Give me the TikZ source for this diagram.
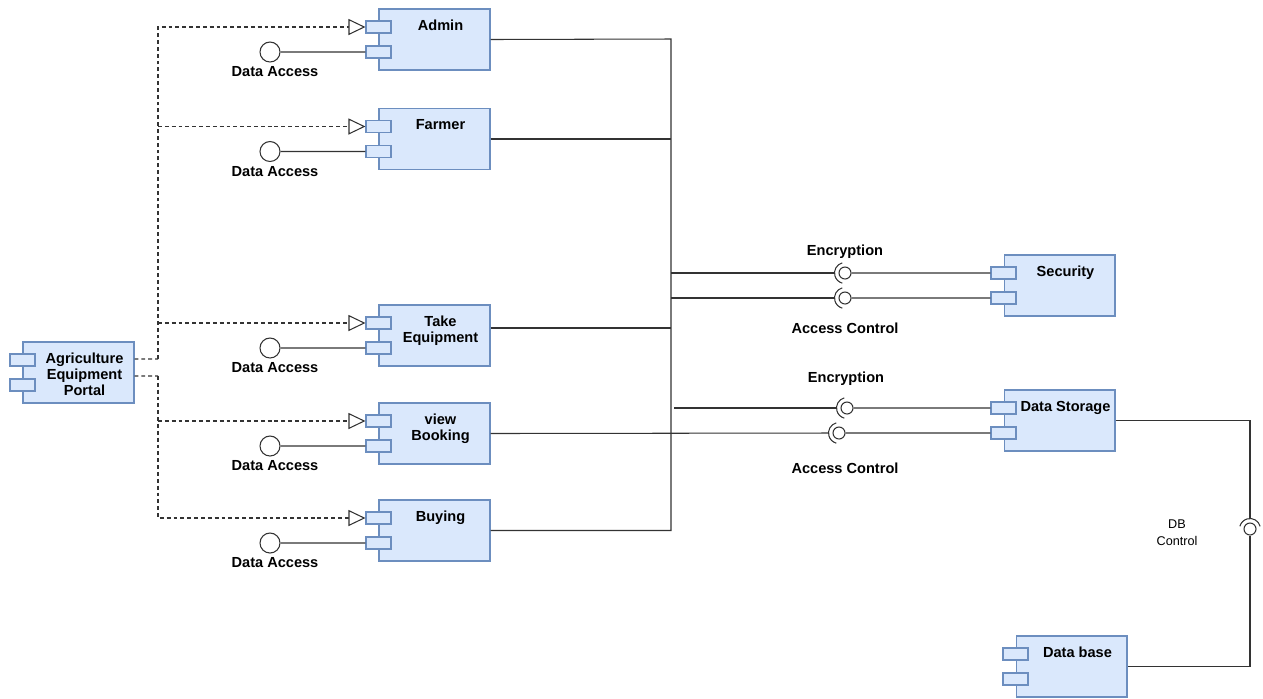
\documentclass[tikz,border=0pt]{standalone}
\usepackage{fontspec}
\setmainfont{Liberation Sans}
\usetikzlibrary{arrows.meta}
\definecolor{compfill}{HTML}{DAE8FC}
\definecolor{compline}{HTML}{6C8EBF}
\definecolor{wirecol}{HTML}{333333}
\tikzset{
	comp/.style={draw=compline,fill=compfill,line width=.6pt,minimum width=2.22cm,minimum height=1.22cm,inner sep=0pt},
	port/.style={draw=compline,fill=compfill,line width=.6pt,minimum width=.5cm,minimum height=.24cm,inner sep=0pt},
	complabel/.style={anchor=north,inner sep=0pt,align=center,font=\fontsize{8.3}{9.1}\selectfont\bfseries},
	txt/.style={inner sep=0pt,align=center,font=\fontsize{8.3}{9.1}\selectfont\bfseries},
	wire/.style={draw=wirecol,line width=.6pt},
	dep/.style={draw=wirecol,line width=.6pt,dash pattern=on 2.2pt off 1.7pt,-{Triangle[open,length=.34cm,width=.32cm,fill=white]}},
	depline/.style={draw=wirecol,line width=.6pt,dash pattern=on 2.2pt off 1.7pt},
	ball/.style={circle,draw=wirecol,fill=white,line width=.6pt,minimum size=.4cm,inner sep=0pt},
	smallball/.style={circle,draw=wirecol,fill=white,line width=.6pt,minimum size=.24cm,inner sep=0pt}
}
% component box with two ports and its name
\newcommand{\Comp}[4]{
	\node[comp] (#1) at (#2,#3) {};
	\node[port] (#1-p1) at ([yshift=.25cm]#1.west) {};
	\node[port] (#1-p2) at ([yshift=-.25cm]#1.west) {};
	\node[complabel] (#1-t) at ([xshift=.12cm,yshift=-.23cm]#1.north) {#4};
}
% provided interface: ball with label below
\newcommand{\Provided}[2]{
	\node[ball] (#1-da) at (270,#2) {};
	\node[txt] (#1-dal) at (275,#2+20) {Data Access};
	\draw[wire] (#1-da.east) -- (#1-p2.west);
}
% required interface: small ball with socket arc facing #3
\newcommand{\Socket}[3]{
	\node[smallball] (#1) at (#2) {};
	\draw[wire] (#1.center) ++({#3-75}:.21cm) arc[start angle={#3-75},end angle={#3+75},radius=.21cm];
}

\begin{document}
\begin{tikzpicture}[x=0.02cm,y=-0.02cm]
\useasboundingbox (0,0) rectangle (1263,698);

%components
\Comp{portal}{78.5}{372.5}{Agriculture\\Equipment\\Portal}
\Comp{admin}{434.5}{39.5}{Admin}
\Comp{farmer}{434.5}{139}{Farmer}
\Comp{take}{434.5}{335.5}{Take\\Equipment}
\Comp{view}{434.5}{433.5}{view\\Booking}
\Comp{buying}{434.5}{530.5}{Buying}
\Comp{sec}{1059.5}{285.5}{Security}
\Comp{ds}{1059.5}{420.5}{Data Storage}
\Comp{db}{1071.5}{666.5}{Data base}

%dependencies from the portal
\coordinate (splitA) at (158,359);
\coordinate (splitB) at (158,376);
\draw[depline] ([yshift=.27cm]portal.east) -- (splitA);
\draw[dep] (splitA) |- (admin-p1.west);
\draw[dep] (farmer-p1.west -| splitA) -- (farmer-p1.west);
\draw[dep] (take-p1.west -| splitA) -- (take-p1.west);
\draw[depline] ([yshift=-.07cm]portal.east) -- (splitB);
\draw[dep] (splitB) |- (buying-p1.west);
\draw[dep] (view-p1.west -| splitB) -- (view-p1.west);

%data access
\Provided{admin}{52}
\Provided{farmer}{151.5}
\Provided{take}{348}
\Provided{view}{446}
\Provided{buying}{543}

%bus
\coordinate (bustop) at (671,39);
\coordinate (busbot) at (671,530.5);
\draw[wire] (admin.east) -- (bustop) -- (busbot) -- (buying.east);
\draw[wire] (farmer.east) -- (farmer.east -| bustop);
\draw[wire] ([yshift=.15cm]take.east) -- ([yshift=.15cm]take.east -| bustop);

%security interfaces
\Socket{sEnc}{845,273}{180}
\Socket{sAcc}{845,298}{180}
\draw[wire] (sEnc -| bustop) -- ([xshift=-.21cm]sEnc.center);
\draw[wire] (sEnc.east) -- (sec-p1.west);
\draw[wire] (sAcc -| bustop) -- ([xshift=-.21cm]sAcc.center);
\draw[wire] (sAcc.east) -- (sec-p2.west);
\node[txt] (sEncl) at (845,252) {Encryption};
\node[txt] (sAccl) at (845,328) {Access Control};

%data storage interfaces
\Socket{dEnc}{847,408}{180}
\Socket{dAcc}{839,433}{180}
\draw[wire] ([xshift=.06cm]dEnc -| bustop) -- ([xshift=-.21cm]dEnc.center);
\draw[wire] (dEnc.east) -- (ds-p1.west);
\draw[wire] (view.east) -- ([xshift=-.21cm]dAcc.center);
\draw[wire] (dAcc.east) -- (ds-p2.west);
\node[txt] (dEncl) at (846,379) {Encryption};
\node[txt] (dAccl) at (845,468) {Access Control};

%db control
\Socket{dbc}{1250,529}{90}
\draw[wire] (ds.east) -| ([yshift=.21cm]dbc.center);
\draw[wire] (dbc.south) |- (db.east);
\node[inner sep=0pt,align=center,font=\fontsize{7.2}{9.5}\selectfont] (dbcl) at (1177,533) {DB\\Control};
\end{tikzpicture}
\end{document}
